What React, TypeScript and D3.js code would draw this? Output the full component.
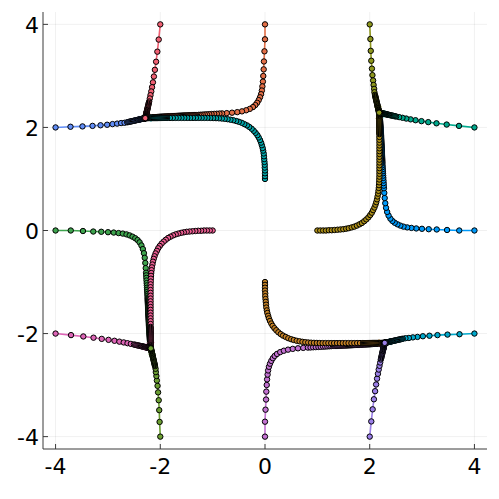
import React from "react";
import * as d3 from "d3";

// Path values. Every path runs from a start point to one of
// the four end points near (±2.18, ±2.29); the lists keep the magnitude of each
// coordinate, the "Neg" lists the same values with the sign flipped.

// long paths that start on an axis at distance 4
const axisAlong = [4, 3.71, 3.477, 3.28, 3.127, 2.998, 2.889, 2.796, 2.716, 2.645, 2.585, 2.53, 2.478, 2.434, 2.395, 2.36, 2.333, 2.312, 2.297, 2.286, 2.278, 2.272, 2.269, 2.266, 2.263, 2.26, 2.257, 2.254, 2.252, 2.249, 2.246, 2.244,
  2.241, 2.24, 2.24, 2.239, 2.238, 2.237, 2.236, 2.235, 2.234, 2.233, 2.232, 2.231, 2.231, 2.23, 2.229, 2.228, 2.227, 2.226, 2.225, 2.224, 2.223, 2.222, 2.221, 2.22, 2.219, 2.218, 2.217, 2.216, 2.214, 2.213, 2.212, 2.211, 2.21, 2.209, 2.208, 2.207, 2.205, 2.204, 2.203, 2.201, 2.2, 2.198, 2.197, 2.195, 2.193, 2.191, 2.189, 2.188, 2.186, 2.185, 2.184, 2.183, 2.182, 2.182, 2.181, 2.181];
const axisAlongNeg = [-4, -3.71, -3.477, -3.28, -3.127, -2.998, -2.889, -2.796, -2.716, -2.645, -2.585, -2.53, -2.478, -2.434, -2.395, -2.36, -2.333, -2.312, -2.297, -2.286, -2.278, -2.272, -2.269, -2.266, -2.263, -2.26, -2.257, -2.254, -2.252, -2.249, -2.246, -2.244,
  -2.241, -2.24, -2.24, -2.239, -2.238, -2.237, -2.236, -2.235, -2.234, -2.233, -2.232, -2.231, -2.231, -2.23, -2.229, -2.228, -2.227, -2.226, -2.225, -2.224, -2.223, -2.222, -2.221, -2.22, -2.219, -2.218, -2.217, -2.216, -2.214, -2.213, -2.212, -2.211, -2.21, -2.209, -2.208, -2.207, -2.205, -2.204, -2.203, -2.201, -2.2, -2.198, -2.197, -2.195, -2.193, -2.191, -2.189, -2.188, -2.186, -2.185, -2.184, -2.183, -2.182, -2.182, -2.181, -2.181];
const axisAcross = [0, 0, 0.01, 0.02, 0.025, 0.033, 0.04, 0.05, 0.06, 0.075, 0.095, 0.12, 0.15, 0.185, 0.23, 0.29, 0.36, 0.44, 0.53, 0.63, 0.73, 0.82, 0.87, 0.92, 0.97, 1.02, 1.065, 1.11, 1.15, 1.19, 1.23, 1.265,
  1.3, 1.32, 1.34, 1.36, 1.38, 1.4, 1.42, 1.44, 1.46, 1.48, 1.5, 1.52, 1.54, 1.56, 1.58, 1.6, 1.62, 1.64, 1.66, 1.68, 1.7, 1.72, 1.74, 1.76, 1.78, 1.8, 1.82, 1.84, 1.86, 1.88, 1.9, 1.92, 1.94, 1.96, 1.98, 2, 2.02, 2.04, 2.06, 2.08, 2.1, 2.12, 2.14, 2.16, 2.18, 2.2, 2.215, 2.23, 2.243, 2.254, 2.263, 2.27, 2.276, 2.28, 2.284, 2.287];
const axisAcrossNeg = [0, 0, -0.01, -0.02, -0.025, -0.033, -0.04, -0.05, -0.06, -0.075, -0.095, -0.12, -0.15, -0.185, -0.23, -0.29, -0.36, -0.44, -0.53, -0.63, -0.73, -0.82, -0.87, -0.92, -0.97, -1.02, -1.065, -1.11, -1.15, -1.19, -1.23, -1.265,
  -1.3, -1.32, -1.34, -1.36, -1.38, -1.4, -1.42, -1.44, -1.46, -1.48, -1.5, -1.52, -1.54, -1.56, -1.58, -1.6, -1.62, -1.64, -1.66, -1.68, -1.7, -1.72, -1.74, -1.76, -1.78, -1.8, -1.82, -1.84, -1.86, -1.88, -1.9, -1.92, -1.94, -1.96, -1.98, -2, -2.02, -2.04, -2.06, -2.08, -2.1, -2.12, -2.14, -2.16, -2.18, -2.2, -2.215, -2.23, -2.243, -2.254, -2.263, -2.27, -2.276, -2.28, -2.284, -2.287];

// short paths that start on an axis at distance 1
const innerAlong = [1, 1.055, 1.11, 1.165, 1.22, 1.275, 1.33, 1.385, 1.44, 1.495, 1.55, 1.6, 1.655, 1.705, 1.755, 1.805, 1.85, 1.895, 1.935, 1.975, 2.01, 2.04, 2.065, 2.09, 2.11, 2.125, 2.14, 2.15, 2.16, 2.167, 2.173, 2.177, 2.18, 2.182, 2.184,
  2.185, 2.185, 2.185, 2.185, 2.185, 2.185, 2.185, 2.185, 2.185, 2.185, 2.185, 2.185,
  2.184, 2.184, 2.184, 2.184, 2.184, 2.184, 2.184, 2.184, 2.184, 2.184, 2.184,
  2.183, 2.183, 2.183, 2.183, 2.183, 2.183, 2.182, 2.182, 2.182, 2.182, 2.182, 2.182, 2.181, 2.181, 2.181, 2.181, 2.181, 2.181];
const innerAlongNeg = [-1, -1.055, -1.11, -1.165, -1.22, -1.275, -1.33, -1.385, -1.44, -1.495, -1.55, -1.6, -1.655, -1.705, -1.755, -1.805, -1.85, -1.895, -1.935, -1.975, -2.01, -2.04, -2.065, -2.09, -2.11, -2.125, -2.14, -2.15, -2.16, -2.167, -2.173, -2.177, -2.18, -2.182, -2.184,
  -2.185, -2.185, -2.185, -2.185, -2.185, -2.185, -2.185, -2.185, -2.185, -2.185, -2.185, -2.185,
  -2.184, -2.184, -2.184, -2.184, -2.184, -2.184, -2.184, -2.184, -2.184, -2.184, -2.184,
  -2.183, -2.183, -2.183, -2.183, -2.183, -2.183, -2.182, -2.182, -2.182, -2.182, -2.182, -2.182, -2.181, -2.181, -2.181, -2.181, -2.181, -2.181];
const innerAcross = [0, 0, 0, 0, 0.005, 0.005, 0.01, 0.015, 0.02, 0.025, 0.035, 0.045, 0.06, 0.075, 0.095, 0.12, 0.145, 0.18, 0.215, 0.255, 0.3, 0.345, 0.395, 0.445, 0.5, 0.55, 0.605, 0.66, 0.715, 0.77, 0.825, 0.88, 0.935, 0.99, 1.045,
  1.1, 1.155, 1.21, 1.265, 1.32, 1.375, 1.43, 1.485, 1.54, 1.595, 1.65, 1.705, 1.76, 1.815, 1.87,
  1.89, 1.91, 1.93, 1.95, 1.97, 1.99, 2.01, 2.03, 2.05, 2.07, 2.09, 2.11, 2.13, 2.15, 2.17, 2.19, 2.21, 2.225, 2.24, 2.252, 2.262, 2.27, 2.277, 2.282, 2.285, 2.287];
const innerAcrossNeg = [0, 0, 0, 0, -0.005, -0.005, -0.01, -0.015, -0.02, -0.025, -0.035, -0.045, -0.06, -0.075, -0.095, -0.12, -0.145, -0.18, -0.215, -0.255, -0.3, -0.345, -0.395, -0.445, -0.5, -0.55, -0.605, -0.66, -0.715, -0.77, -0.825, -0.88, -0.935, -0.99, -1.045,
  -1.1, -1.155, -1.21, -1.265, -1.32, -1.375, -1.43, -1.485, -1.54, -1.595, -1.65, -1.705, -1.76, -1.815, -1.87,
  -1.89, -1.91, -1.93, -1.95, -1.97, -1.99, -2.01, -2.03, -2.05, -2.07, -2.09, -2.11, -2.13, -2.15, -2.17, -2.19, -2.21, -2.225, -2.24, -2.252, -2.262, -2.27, -2.277, -2.282, -2.285, -2.287];

// paths that start at (±4, ±2) / (±2, ±4): long leg and short leg
const wideRun = [4, 3.715, 3.486, 3.294, 3.141, 3.015, 2.912, 2.824, 2.748, 2.683, 2.633, 2.612, 2.592, 2.573, 2.555, 2.537, 2.52, 2.503, 2.487, 2.471, 2.456, 2.441, 2.427, 2.413, 2.4, 2.387, 2.375, 2.363, 2.352, 2.341, 2.331, 2.322, 2.313, 2.306, 2.3, 2.295, 2.291, 2.288, 2.287];
const wideRunNeg = [-4, -3.715, -3.486, -3.294, -3.141, -3.015, -2.912, -2.824, -2.748, -2.683, -2.633, -2.612, -2.592, -2.573, -2.555, -2.537, -2.52, -2.503, -2.487, -2.471, -2.456, -2.441, -2.427, -2.413, -2.4, -2.387, -2.375, -2.363, -2.352, -2.341, -2.331, -2.322, -2.313, -2.306, -2.3, -2.295, -2.291, -2.288, -2.287];
const wideRise = [2, 2.013, 2.02, 2.03, 2.042, 2.052, 2.065, 2.074, 2.085, 2.09, 2.1, 2.105, 2.11, 2.114, 2.118, 2.122, 2.126, 2.13, 2.134, 2.138, 2.141, 2.145, 2.148, 2.151, 2.154, 2.157, 2.16, 2.163, 2.166, 2.168, 2.171, 2.173, 2.175, 2.177, 2.178, 2.179, 2.18, 2.181, 2.181];
const wideRiseNeg = [-2, -2.013, -2.02, -2.03, -2.042, -2.052, -2.065, -2.074, -2.085, -2.09, -2.1, -2.105, -2.11, -2.114, -2.118, -2.122, -2.126, -2.13, -2.134, -2.138, -2.141, -2.145, -2.148, -2.151, -2.154, -2.157, -2.16, -2.163, -2.166, -2.168, -2.171, -2.173, -2.175, -2.177, -2.178, -2.179, -2.18, -2.181, -2.181];

// paths that start at (±2, ±4) / (±4, ±2): steep leg and drift
const tallFall = [4, 3.705, 3.47, 3.275, 3.118, 2.988, 2.875, 2.781, 2.698, 2.626, 2.562, 2.504, 2.48, 2.458, 2.437, 2.418, 2.4, 2.383, 2.367, 2.352, 2.338, 2.325, 2.313, 2.301, 2.29, 2.28, 2.27, 2.261, 2.253, 2.245, 2.238, 2.231, 2.225, 2.219, 2.214, 2.209, 2.204, 2.2, 2.196, 2.193, 2.19, 2.187, 2.185, 2.183, 2.182, 2.181];
const tallFallNeg = [-4, -3.705, -3.47, -3.275, -3.118, -2.988, -2.875, -2.781, -2.698, -2.626, -2.562, -2.504, -2.48, -2.458, -2.437, -2.418, -2.4, -2.383, -2.367, -2.352, -2.338, -2.325, -2.313, -2.301, -2.29, -2.28, -2.27, -2.261, -2.253, -2.245, -2.238, -2.231, -2.225, -2.219, -2.214, -2.209, -2.204, -2.2, -2.196, -2.193, -2.19, -2.187, -2.185, -2.183, -2.182, -2.181];
const tallDrift = [2, 2.03, 2.056, 2.08, 2.103, 2.122, 2.14, 2.157, 2.172, 2.187, 2.2, 2.212, 2.218, 2.223, 2.228, 2.232, 2.236, 2.24, 2.244, 2.247, 2.251, 2.254, 2.256, 2.259, 2.262, 2.264, 2.266, 2.268, 2.27, 2.272, 2.274, 2.275, 2.277, 2.278, 2.279, 2.28, 2.282, 2.283, 2.283, 2.284, 2.285, 2.285, 2.286, 2.286, 2.287, 2.287];
const tallDriftNeg = [-2, -2.03, -2.056, -2.08, -2.103, -2.122, -2.14, -2.157, -2.172, -2.187, -2.2, -2.212, -2.218, -2.223, -2.228, -2.232, -2.236, -2.24, -2.244, -2.247, -2.251, -2.254, -2.256, -2.259, -2.262, -2.264, -2.266, -2.268, -2.27, -2.272, -2.274, -2.275, -2.277, -2.278, -2.279, -2.28, -2.282, -2.283, -2.283, -2.284, -2.285, -2.285, -2.286, -2.286, -2.287, -2.287];

const ticks = [-4, -2, 0, 2, 4];
const tickLabels = ["-4", "-2", "0", "2", "4"];

// series in drawing order (Plots default palette)
const series = [
  { color: "#009AFA", xs: axisAlong, ys: axisAcross },
  { color: "#E36F47", xs: axisAcrossNeg, ys: axisAlong },
  { color: "#3EA44E", xs: axisAlongNeg, ys: axisAcrossNeg },
  { color: "#C371D2", xs: axisAcross, ys: axisAlongNeg },
  { color: "#AC8E18", xs: innerAlong, ys: innerAcross },
  { color: "#00A9AD", xs: innerAcrossNeg, ys: innerAlong },
  { color: "#ED5E93", xs: innerAlongNeg, ys: innerAcrossNeg },
  { color: "#C68225", xs: innerAcross, ys: innerAlongNeg },
  { color: "#00A98D", xs: tallFall, ys: tallDrift },
  { color: "#8E971E", xs: wideRise, ys: wideRun },
  { color: "#00A8CB", xs: wideRun, ys: wideRiseNeg },
  { color: "#9B7FE8", xs: tallDrift, ys: tallFallNeg },
  { color: "#618DF6", xs: wideRunNeg, ys: wideRise },
  { color: "#F06073", xs: tallDriftNeg, ys: tallFall },
  { color: "#DD65B6", xs: tallFallNeg, ys: tallDriftNeg },
  { color: "#6C9F33", xs: wideRiseNeg, ys: wideRunNeg },
];

const width = 499;
const height = 499;
const plot = { left: 43, right: 487, top: 12, bottom: 449 };

export default function App() {
  const x = d3.scaleLinear().domain([-4.24, 4.24]).range([plot.left, plot.right]);
  const y = d3.scaleLinear().domain([-4.24, 4.24]).range([plot.bottom, plot.top]);
  const line = d3.line<[number, number]>().x((d) => d[0]).y((d) => d[1]);

  const drawn = series.map((s) => {
    const pts: [number, number][] = s.xs.map((v, i) => [x(v), y(s.ys[i])]);
    // arrow head at the end of the line
    const tip = pts[pts.length - 1];
    let k = pts.length - 2;
    while (k > 0 && Math.hypot(tip[0] - pts[k][0], tip[1] - pts[k][1]) < 0.8) k--;
    const ang = Math.atan2(tip[1] - pts[k][1], tip[0] - pts[k][0]);
    const len = 7;
    const spread = 0.45;
    const wing = (a: number) => [tip[0] - len * Math.cos(a), tip[1] - len * Math.sin(a)];
    const w1 = wing(ang + spread);
    const w2 = wing(ang - spread);
    const arrow = `M${w1[0]},${w1[1]}L${tip[0]},${tip[1]}L${w2[0]},${w2[1]}`;
    return { ...s, pts, arrow };
  });

  return (
    <svg
      width={width}
      height={height}
      style={{ position: "absolute", left: 0, top: 0, background: "#fff" }}
      fontFamily="DejaVu Sans"
    >
      <rect width={width} height={height} fill="#fff" />
      {/* grid */}
      <g stroke="#000" strokeOpacity={0.1} strokeWidth={0.6}>
        {ticks.map((t) => (
          <line key={"gx" + t} x1={x(t)} x2={x(t)} y1={plot.top} y2={plot.bottom} />
        ))}
        {ticks.map((t) => (
          <line key={"gy" + t} x1={plot.left} x2={plot.right} y1={y(t)} y2={y(t)} />
        ))}
      </g>

      {/* series */}
      {drawn.map((s, i) => (
        <g key={i}>
          <path d={line(s.pts) || ""} fill="none" stroke={s.color} strokeWidth={1.6} />
          <path d={s.arrow} fill="none" stroke={s.color} strokeWidth={1.4} />
          {s.pts.map((p, j) => (
            <circle key={j} cx={p[0]} cy={p[1]} r={2.7} fill={s.color} stroke="#000" strokeWidth={1} />
          ))}
        </g>
      ))}

      {/* axes */}
      <g stroke="#3a3a3a" strokeWidth={1}>
        <line x1={plot.left} x2={plot.left} y1={plot.top} y2={plot.bottom} />
        <line x1={plot.left} x2={plot.right} y1={plot.bottom} y2={plot.bottom} />
        {ticks.map((t) => (
          <line key={"tx" + t} x1={x(t)} x2={x(t)} y1={plot.bottom} y2={plot.bottom - 5} />
        ))}
        {ticks.map((t) => (
          <line key={"ty" + t} x1={plot.left} x2={plot.left + 5} y1={y(t)} y2={y(t)} />
        ))}
      </g>
      <g fontSize={22} fill="#000">
        {ticks.map((t, i) => (
          <text key={"lx" + t} x={x(t)} y={plot.bottom + 25} textAnchor="middle">
            {tickLabels[i]}
          </text>
        ))}
        {ticks.map((t, i) => (
          <text key={"ly" + t} x={plot.left - 4} y={y(t) + 8.5} textAnchor="end">
            {tickLabels[i]}
          </text>
        ))}
      </g>
    </svg>
  );
}
